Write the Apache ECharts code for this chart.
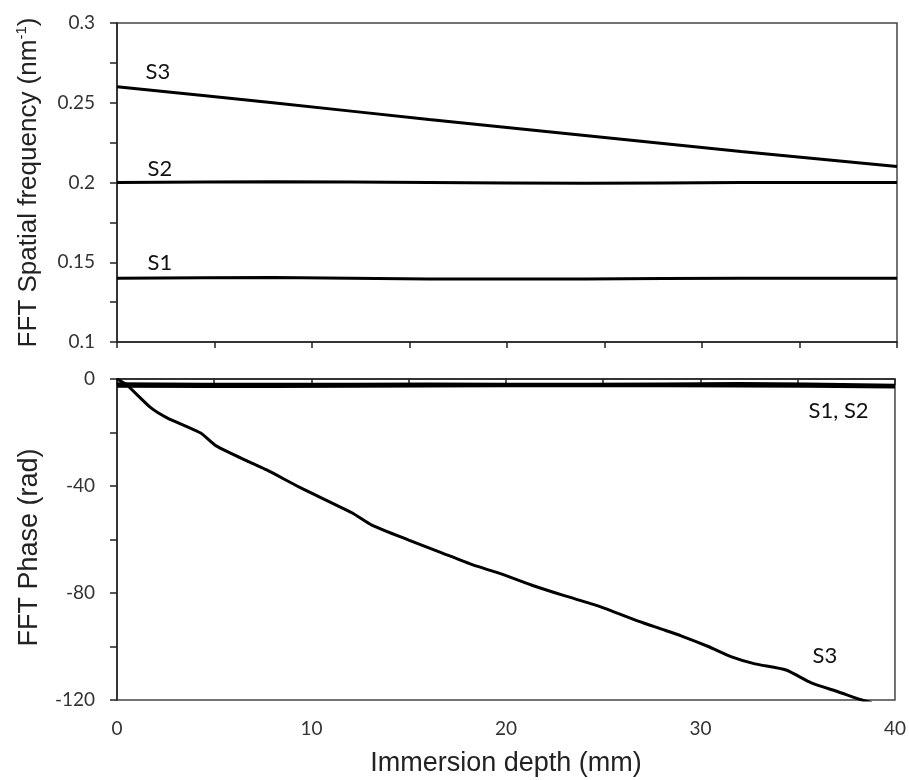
<!DOCTYPE html>
<html><head><meta charset="utf-8">
<script src="https://cdn.jsdelivr.net/npm/echarts@6/dist/echarts.min.js"></script>
<style>html,body{margin:0;padding:0;background:#fff}#c{width:909px;height:780px}</style>
</head><body><div id="c"></div>
<script>
// Top panel: FFT spatial frequency (nm^-1) vs immersion depth (mm)
const freqS1 = [[0,0.140],[8,0.1405],[16,0.1395],[24,0.1395],[32,0.140],[40,0.140]];
const freqS2 = [[0,0.200],[8,0.2005],[16,0.2000],[24,0.1995],[32,0.200],[40,0.200]];
const freqS3 = [[0,0.260],[8,0.250],[16,0.2395],[24,0.2295],[32,0.2195],[40,0.2100]];
// Bottom panel: FFT phase (rad)
const phaseS1 = [[0,-1.8],[8,-2.0],[16,-1.9],[24,-2.0],[32,-1.7],[40,-2.3]];
const phaseS2 = [[0,-2.7],[8,-2.8],[16,-2.6],[24,-2.5],[32,-2.6],[40,-3.0]];
const phaseS3 = [[0,0],[0.5,-2.2],[1.7,-10.5],[2.6,-14.6],[4.3,-20.2],[5.1,-25],[6.8,-31],[7.7,-34],[9.4,-40.5],
  [12.1,-50.1],[13.1,-54.6],[15.0,-60.2],[16.6,-64.7],[18.3,-69.5],[19.6,-72.5],[21.3,-77],[23,-81],[24.8,-85],
  [26.8,-90.5],[28.0,-93.5],[29.0,-96],[30.4,-100],[31.6,-103.9],[32.8,-106.5],[34.4,-108.8],[35.7,-113.6],
  [37.1,-117],[38.3,-120],[38.8,-121]];
const xTicks = [0,10,20,30,40];
const freqTicks = [0.1,0.15,0.2,0.25,0.3];
const phaseTicks = [-120,-80,-40,0];
const topLabels = [{name:'S3',coord:[2.1,0.2693]},{name:'S2',coord:[2.2,0.2085]},{name:'S1',coord:[2.2,0.1498]}];
const botLabels = [{name:'S1, S2',coord:[37.1,-12.0]},{name:'S3',coord:[36.4,-103.7]}];

const chart = echarts.init(document.getElementById('c'));
const axisLine = {lineStyle:{color:'#222',width:1.5}};
const tickFont = {fontFamily:'Lato, "Open Sans", sans-serif',fontSize:19,color:'#333'};
function labelsPoint(arr){
  return {symbol:'circle',symbolSize:0,silent:true,
    label:{show:true,position:'inside',formatter:'{b}',fontFamily:'Lato, "Open Sans", sans-serif',fontSize:22,color:'#111'},
    data:arr.map(d=>({name:d.name,coord:d.coord}))};
}
const lineStyle = {color:'#000',width:3};
const base = {type:'line',showSymbol:false,symbol:'none',smooth:0.3,lineStyle:lineStyle,itemStyle:{color:'#000'},animation:false};
const titleFont = '"Liberation Sans", Arial, sans-serif';
chart.setOption({
  animation:false,
  grid:[
    {left:117,right:12,top:23,height:319,show:true,borderColor:'#444',borderWidth:1.5,backgroundColor:'transparent'},
    {left:117,right:12,top:379,height:321,show:true,borderColor:'#444',borderWidth:1.5,backgroundColor:'transparent'}
  ],
  xAxis:[
    {type:'value',gridIndex:0,min:0,max:40,interval:10,axisLine:axisLine,
      axisTick:{show:true,length:6,inside:false,lineStyle:{color:'#222',width:1.5}},
      minorTick:{show:true,splitNumber:2,length:6,lineStyle:{color:'#222',width:1.5}},
      axisLabel:{show:false},splitLine:{show:false}},
    {type:'value',gridIndex:1,min:0,max:40,interval:10,axisLine:axisLine,
      axisTick:{show:true,length:6,lineStyle:{color:'#222',width:1.5}},
      minorTick:{show:true,splitNumber:2,length:6,lineStyle:{color:'#222',width:1.5}},
      axisLabel:Object.assign({margin:19,customValues:xTicks},tickFont),splitLine:{show:false},
      name:'Immersion depth (mm)',nameLocation:'middle',nameGap:50,
      nameTextStyle:{fontFamily:titleFont,fontSize:27,color:'#222'}}
  ],
  yAxis:[
    {type:'value',gridIndex:0,min:0.1,max:0.3,interval:0.05,axisLine:axisLine,
      axisTick:{show:true,length:7,lineStyle:{color:'#222',width:1.5}},
      minorTick:{show:true,splitNumber:2,length:7,lineStyle:{color:'#222',width:1.5}},
      axisLabel:Object.assign({margin:22,formatter:v=>String(+v.toFixed(2))},tickFont),splitLine:{show:false},
      name:'FFT Spatial frequency (nm{sup|-1})',nameLocation:'middle',nameGap:74,nameRotate:90,
      nameTextStyle:{fontFamily:titleFont,fontSize:26,color:'#222',
        rich:{sup:{fontFamily:titleFont,fontSize:15,verticalAlign:'top',padding:[0,0,14,0],color:'#222'}}}},
    {type:'value',gridIndex:1,min:-120,max:0,interval:40,axisLine:axisLine,
      axisTick:{show:true,length:7,lineStyle:{color:'#222',width:1.5}},
      minorTick:{show:true,splitNumber:2,length:7,lineStyle:{color:'#222',width:1.5}},
      axisLabel:Object.assign({margin:22},tickFont),splitLine:{show:false},
      name:'FFT Phase (rad)',nameLocation:'middle',nameGap:74,nameRotate:90,
      nameTextStyle:{fontFamily:titleFont,fontSize:27,color:'#222',padding:[0,16,0,0]}}
  ],
  series:[
    Object.assign({},base,{name:'S1 freq',xAxisIndex:0,yAxisIndex:0,data:freqS1,markPoint:labelsPoint(topLabels)}),
    Object.assign({},base,{name:'S2 freq',xAxisIndex:0,yAxisIndex:0,data:freqS2}),
    Object.assign({},base,{name:'S3 freq',xAxisIndex:0,yAxisIndex:0,data:freqS3}),
    Object.assign({},base,{name:'S1 phase',xAxisIndex:1,yAxisIndex:1,data:phaseS1,markPoint:labelsPoint(botLabels)}),
    Object.assign({},base,{name:'S2 phase',xAxisIndex:1,yAxisIndex:1,data:phaseS2}),
    Object.assign({},base,{name:'S3 phase',xAxisIndex:1,yAxisIndex:1,data:phaseS3,smooth:0.2})
  ]
});
</script></body></html>
